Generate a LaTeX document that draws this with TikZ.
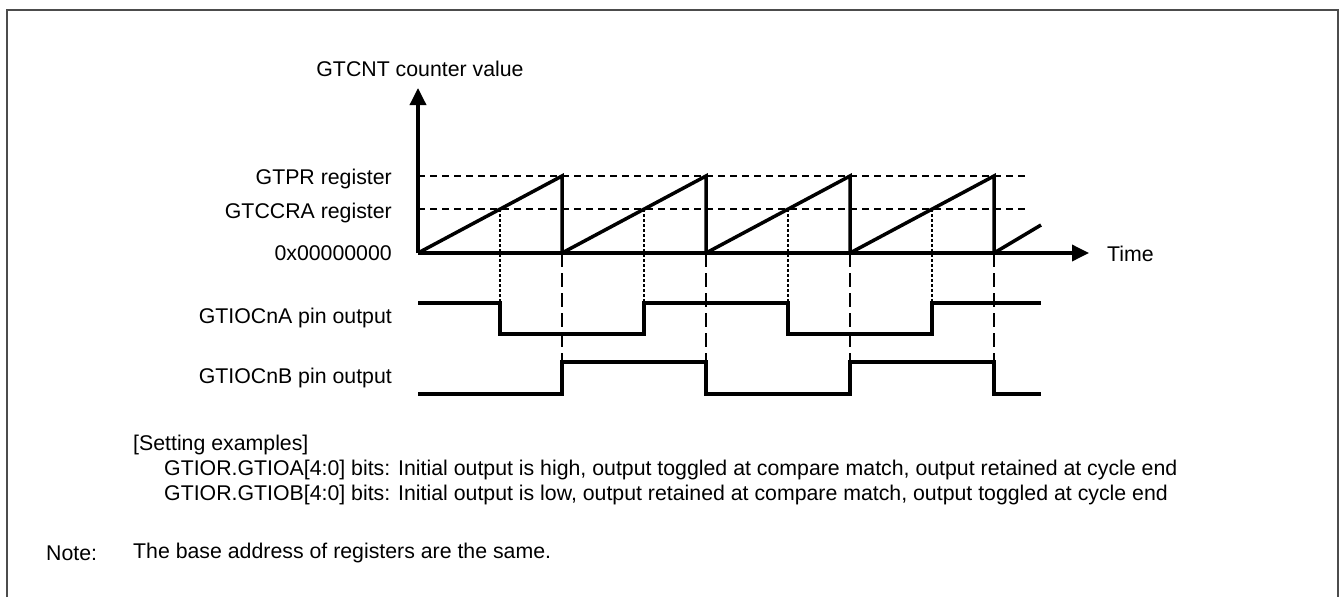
\documentclass[tikz,border=0pt]{standalone}
\usepackage{fontspec}
\setmainfont{Liberation Sans}
\usetikzlibrary{arrows.meta}

\begin{document}
\begin{tikzpicture}[x=1pt, y=-1pt,
    font=\fontsize{21.3}{25.6}\selectfont,
    sig/.style={line width=3.5pt, line join=miter},
    axis/.style={line width=3.5pt, -{Triangle[length=17pt,width=16pt]}},
    lvl/.style={line width=2.8pt, dash pattern=on 7pt off 5pt},
    cmpline/.style={line width=2.8pt, dash pattern=on 3pt off 2pt},
    cycline/.style={line width=2.8pt, dash pattern=on 14pt off 6pt},
    lbl/.style={anchor=east, inner sep=0pt},
    txt/.style={anchor=west, inner sep=0pt}]

  \useasboundingbox (0,0) rectangle (1341,597);

  % Frame (open at the bottom)
  \draw[line width=2pt, black!70] (7,597) -- (7,10) -- (1338,10) -- (1338,597);

  % Geometry
  \def\per{144}
  \coordinate (O)    at (418,253);
  \coordinate (Ytop) at (418,88);
  \coordinate (Xend) at (1089,253);

  % Register levels
  \draw[lvl] (418,176) -- (1027,176);
  \draw[lvl] (418,209) -- (1027,209);

  % Axes
  \draw[axis] (O) -- (Ytop);
  \draw[axis] (O) -- (Xend);

  % Sawtooth
  \foreach \k in {0,1,2,3} {
    \coordinate (b\k) at ({418+\k*\per},253);
    \coordinate (p\k) at ({418+(\k+1)*\per},176);
    \coordinate (e\k) at ({418+(\k+1)*\per},253);
    \coordinate (c\k) at ({500+\k*\per},209);
    \draw[sig] (b\k) -- (p\k) -- (e\k);
    % compare match
    \draw[cmpline] (c\k) -- ({500+\k*\per},303);
    % cycle end
    \draw[cycline] (e\k) -- ({418+(\k+1)*\per},362);
  }
  \coordinate (ramp) at (1041,225);
  \draw[sig] (e3) -- (ramp);

  % GTIOCnA
  \draw[sig] (418,303) -- (500,303) -- (500,334) -- (644,334) -- (644,303)
    -- (788,303) -- (788,334) -- (932,334) -- (932,303) -- (1041,303);

  % GTIOCnB
  \draw[sig] (418,394) -- (562,394) -- (562,362) -- (706,362) -- (706,394)
    -- (850,394) -- (850,362) -- (994,362) -- (994,394) -- (1041,394);

  % Labels
  \node (cnt)  at (420,69)    {GTCNT counter value};
  \node[lbl] (gtpr)  at (392,179) {GTPR register};
  \node[lbl] (gtccr) at (392,213) {GTCCRA register};
  \node[lbl] (zero)  at (392,253) {0x00000000};
  \node[lbl] (pina)  at (392,318) {GTIOCnA pin output};
  \node[lbl] (pinb)  at (392,378) {GTIOCnB pin output};
  \node[txt] (time)  at (1107,254) {Time};

  % Setting examples
  \node[txt] (set)  at (133,445) {[Setting examples]};
  \node[txt] (seta) at (164,470) {GTIOR.GTIOA[4:0] bits: Initial output is high, output toggled at compare match, output retained at cycle end};
  \node[txt] (setb) at (164,495) {GTIOR.GTIOB[4:0] bits: Initial output is low, output retained at compare match, output toggled at cycle end};

  % Note
  \node[txt] (note)  at (46,553)  {Note:};
  \node[txt] (notet) at (133,553) {The base address of registers are the same.};

\end{tikzpicture}
\end{document}
